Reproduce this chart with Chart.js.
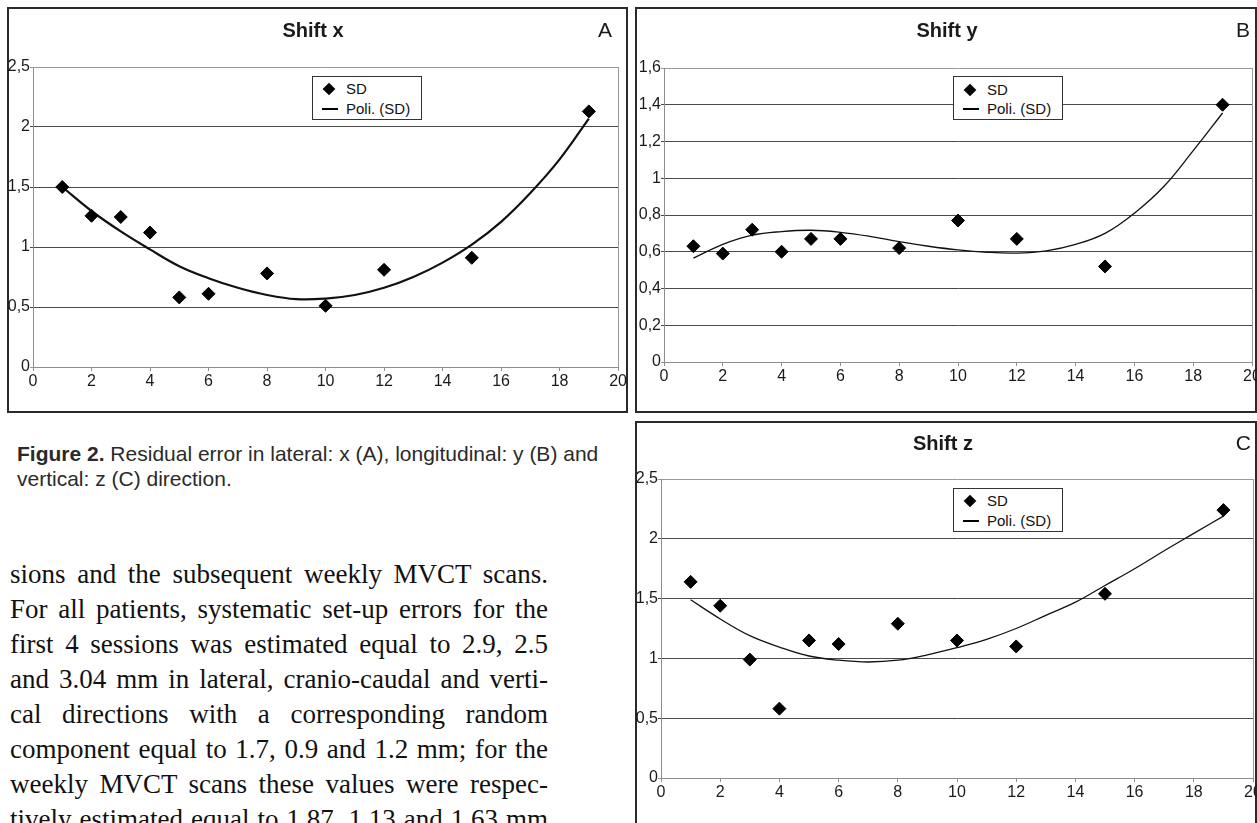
<!DOCTYPE html>
<html>
<head>
<meta charset="utf-8">
<script src="https://cdn.jsdelivr.net/npm/chart.js@4.4.1/dist/chart.umd.min.js"></script>
<style>
  html, body { margin: 0; padding: 0; background: #fff; overflow: hidden; }
  body { position: relative; width: 1257px; height: 823px; font-family: "Liberation Sans", Arial, sans-serif; color: #1a1a1a; }
  .panel { position: absolute; border: 2px solid #2a2a2a; box-sizing: border-box; }
  canvas.plot { position: absolute; }
  .title { position: absolute; font-weight: bold; font-size: 20px; line-height: 20px; transform: translate(-50%, -50%); white-space: nowrap; }
  .tag { position: absolute; font-size: 21px; line-height: 20px; transform: translate(-100%, -50%); }
  .legend { position: absolute; width: 110px; height: 44px; border: 1px solid #333; box-sizing: border-box; background: #fff; font-size: 15px; color: #111; }
  .legend .row { position: absolute; left: 33px; line-height: 16px; transform: translateY(-50%); white-space: nowrap; }
  .legend .dia { position: absolute; width: 9px; height: 9px; background: #000; transform: translate(-50%, -50%) rotate(45deg); }
  .legend .ln { position: absolute; width: 16px; height: 2px; background: #000; }
  .caption { position: absolute; left: 17px; top: 441px; font-size: 21px; line-height: 25px; color: #2a2a2a; white-space: nowrap; }
  .body-line { position: absolute; left: 10px; width: 538px; font-family: "Liberation Serif", "Times New Roman", serif; font-size: 27px; line-height: 35px; color: #111; text-align: justify; text-align-last: justify; }
</style>
</head>
<body>

<div class="panel" style="left:7px; top:7px; width:621px; height:406px;"></div>
<div class="panel" style="left:635px; top:7px; width:622px; height:406px;"></div>
<div class="panel" style="left:635px; top:421px; width:622px; height:420px;"></div>

<canvas id="chartA" class="plot" width="620" height="404" style="left:8px; top:8px;"></canvas>
<canvas id="chartB" class="plot" width="640" height="404" style="left:636px; top:8px;"></canvas>
<canvas id="chartC" class="plot" width="640" height="420" style="left:636px; top:422px;"></canvas>

<div class="title" style="left:313px; top:30px;">Shift x</div>
<div class="tag" style="left:612px; top:30px;">A</div>
<div class="title" style="left:947px; top:30px;">Shift y</div>
<div class="tag" style="left:1250px; top:30px;">B</div>
<div class="title" style="left:943px; top:443px;">Shift z</div>
<div class="tag" style="left:1251px; top:443px;">C</div>

<div class="legend" style="left:312px; top:76px;">
  <div class="dia" style="left:16px; top:12px;"></div><div class="row" style="top:12px;">SD</div>
  <div class="ln" style="left:9px; top:31px;"></div><div class="row" style="top:32px;">Poli. (SD)</div>
</div>
<div class="legend" style="left:953px; top:76px;">
  <div class="dia" style="left:16px; top:13px;"></div><div class="row" style="top:13px;">SD</div>
  <div class="ln" style="left:9px; top:31px;"></div><div class="row" style="top:32px;">Poli. (SD)</div>
</div>
<div class="legend" style="left:953px; top:488px;">
  <div class="dia" style="left:16px; top:12px;"></div><div class="row" style="top:12px;">SD</div>
  <div class="ln" style="left:9px; top:31px;"></div><div class="row" style="top:32px;">Poli. (SD)</div>
</div>

<div class="caption"><b>Figure 2.</b> Residual error in lateral: x (A), longitudinal: y (B) and<br>vertical: z (C) direction.</div>

<div id="text"></div>

<script>
// =========================
//  DATA
// =========================
const sessions = [1, 2, 3, 4, 5, 6, 8, 10, 12, 15, 19];

const sdX = [1.50, 1.26, 1.25, 1.12, 0.58, 0.61, 0.78, 0.51, 0.81, 0.91, 2.13];
const sdY = [0.63, 0.59, 0.72, 0.60, 0.67, 0.67, 0.62, 0.77, 0.67, 0.52, 1.40];
const sdZ = [1.64, 1.44, 0.99, 0.58, 1.15, 1.12, 1.29, 1.15, 1.10, 1.54, 2.24];

// polynomial trend curves at each session 1..19
const trendSessions = [1, 2, 3, 4, 5, 6, 7, 8, 9, 10, 11, 12, 13, 14, 15, 16, 17, 18, 19];
const trendX = [1.50, 1.30, 1.13, 0.98, 0.84, 0.74, 0.66, 0.60, 0.565, 0.57, 0.60, 0.66, 0.75, 0.87, 1.02, 1.21, 1.45, 1.73, 2.07];
const trendY = [0.565, 0.64, 0.69, 0.71, 0.717, 0.706, 0.684, 0.655, 0.63, 0.61, 0.597, 0.593, 0.605, 0.64, 0.70, 0.81, 0.955, 1.15, 1.355];
const trendZ = [1.49, 1.33, 1.19, 1.095, 1.02, 0.985, 0.97, 0.985, 1.03, 1.09, 1.16, 1.25, 1.36, 1.47, 1.61, 1.75, 1.90, 2.045, 2.19];

const xTicks = { min: 0, max: 20, step: 2 };

const bodyLines = [
    "sions and the subsequent weekly MVCT scans.",
    "For all patients, systematic set-up errors for the",
    "first 4 sessions was estimated equal to 2.9, 2.5",
    "and 3.04 mm in lateral, cranio-caudal and verti-",
    "cal directions with a corresponding random",
    "component equal to 1.7, 0.9 and 1.2 mm; for the",
    "weekly MVCT scans these values were respec-",
    "tively estimated equal to 1.87, 1.13 and 1.63 mm"
];

// =========================
//  BODY TEXT
// =========================
const textBox = document.getElementById("text");
bodyLines.forEach((line, i) => {
    const div = document.createElement("div");
    div.className = "body-line";
    div.style.top = (557 + i * 35) + "px";
    div.textContent = line;
    textBox.appendChild(div);
});

// =========================
//  CHART HELPERS
// =========================
const FONT = { family: "'Liberation Sans', Arial, sans-serif", size: 16 };

const plotFrame = {
    id: "plotFrame",
    beforeDatasetsDraw(chart) {
        const { ctx, chartArea: a } = chart;
        ctx.save();
        ctx.strokeStyle = "#9a9a9a";
        ctx.lineWidth = 1;
        ctx.beginPath();
        ctx.moveTo(Math.round(a.right) + 0.5, a.top);
        ctx.lineTo(Math.round(a.right) + 0.5, a.bottom);
        ctx.stroke();
        ctx.restore();
    }
};

function toPoints(xs, ys) {
    return xs.map((x, i) => ({ x, y: ys[i] }));
}

function commaLabel(v) {
    return String(Math.round(v * 10) / 10).replace(".", ",");
}

function createShiftChart(id, sd, trend, cfg) {
    new Chart(document.getElementById(id), {
        type: "scatter",
        data: {
            datasets: [
                {
                    label: "SD",
                    data: toPoints(sessions, sd),
                    pointStyle: "rectRot",
                    pointRadius: 6.5,
                    pointBorderWidth: 1,
                    backgroundColor: "#000",
                    borderColor: "#000",
                    showLine: false,
                    order: 1
                },
                {
                    label: "Poli. (SD)",
                    data: toPoints(trendSessions, trend),
                    showLine: true,
                    pointRadius: 0,
                    borderColor: "#111",
                    borderWidth: cfg.lineWidth,
                    tension: 0.4,
                    fill: false,
                    order: 2
                }
            ]
        },
        options: {
            responsive: false,
            animation: false,
            events: [],
            layout: { padding: cfg.padding },
            plugins: {
                legend: { display: false },
                tooltip: { enabled: false },
                title: { display: false }
            },
            scales: {
                x: {
                    type: "linear",
                    min: xTicks.min,
                    max: xTicks.max,
                    afterFit(scale) { scale.height = cfg.xHeight; },
                    border: { color: "#8e8e8e", width: 1 },
                    grid: { drawOnChartArea: false, drawTicks: true, tickLength: 4, color: "#8e8e8e" },
                    ticks: { stepSize: xTicks.step, padding: 1, color: "#1a1a1a", font: FONT, maxRotation: 0 }
                },
                y: {
                    min: 0,
                    max: cfg.yMax,
                    afterFit(scale) { scale.width = cfg.yWidth; },
                    border: { color: "#8e8e8e", width: 1 },
                    grid: {
                        tickLength: 3,
                        lineWidth: 1,
                        color: ctx => (ctx.tick && (ctx.tick.value === 0 || Math.abs(ctx.tick.value - cfg.yMax) < 1e-6)) ? "#9a9a9a" : "#4a4a4a"
                    },
                    ticks: {
                        stepSize: cfg.yStep,
                        padding: 0,
                        color: "#1a1a1a",
                        font: FONT,
                        callback: v => commaLabel(v)
                    }
                }
            }
        },
        plugins: [plotFrame]
    });
}

// =========================
//  CREATE THE THREE PANELS
// =========================
createShiftChart("chartA", sdX, trendX, {
    yMax: 2.5, yStep: 0.5, lineWidth: 2.2,
    yWidth: 25, xHeight: 40,
    padding: { top: 59, left: 0, right: 9, bottom: 5 }
});

createShiftChart("chartB", sdY, trendY, {
    yMax: 1.6, yStep: 0.2, lineWidth: 1.3,
    yWidth: 28, xHeight: 40,
    padding: { top: 60, left: 0, right: 24, bottom: 10 }
});

createShiftChart("chartC", sdZ, trendZ, {
    yMax: 2.5, yStep: 0.5, lineWidth: 1.3,
    yWidth: 25, xHeight: 40,
    padding: { top: 57, left: 0, right: 23, bottom: 24 }
});
</script>
</body>
</html>
